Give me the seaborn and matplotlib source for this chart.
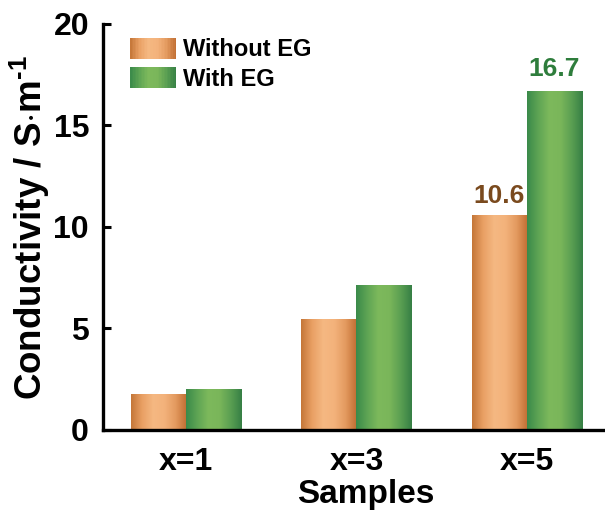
import numpy as np
import pandas as pd
import matplotlib
matplotlib.use('Agg')
import matplotlib.pyplot as plt
from matplotlib.colors import LinearSegmentedColormap
from matplotlib.patches import Rectangle
from matplotlib.legend_handler import HandlerPatch
import seaborn as sns

# data
samples = ['x=1', 'x=3', 'x=5']
without_eg = [1.77, 5.47, 10.6]
with_eg = [2.02, 7.14, 16.7]
series_names = ['Without EG', 'With EG']

df = pd.DataFrame({
    'Samples': samples * 2,
    'Conductivity': without_eg + with_eg,
    'Group': [series_names[0]] * 3 + [series_names[1]] * 3,
})

sns.set_style('ticks')
plt.rcParams['font.family'] = ['Liberation Sans', 'DejaVu Sans']
plt.rcParams['font.weight'] = 'bold'
plt.rcParams['mathtext.fontset'] = 'custom'
plt.rcParams['mathtext.rm'] = 'Liberation Sans:bold'
plt.rcParams['mathtext.bf'] = 'Liberation Sans:bold'
for k in ['text.color', 'axes.labelcolor', 'xtick.color', 'ytick.color', 'axes.edgecolor']:
    plt.rcParams[k] = 'black'

# gradient colour maps (dark edges, light centre)
orange_cmap = LinearSegmentedColormap.from_list(
    'org', ['#c47638', '#e9a064', '#f5b882', '#f3b27b', '#e39a5f', '#c06d32'])
green_cmap = LinearSegmentedColormap.from_list(
    'grn', ['#3a8a4a', '#5ea454', '#7db95c', '#7ab65a', '#5a9f52', '#367f45'])
cmaps = {series_names[0]: orange_cmap, series_names[1]: green_cmap}
mid_colors = {series_names[0]: '#eaa265', series_names[1]: '#62a656'}

fig = plt.figure(figsize=(6.05, 5.19), dpi=100)
ax = fig.add_axes([0.1702, 0.1715, 0.869, 0.7823])

sns.barplot(data=df, x='Samples', y='Conductivity', hue='Group',
            palette=mid_colors, width=0.647, gap=0, linewidth=0,
            ax=ax, legend=False)

grad = np.linspace(0, 1, 256).reshape(1, -1)
for container, name in zip(ax.containers, series_names):
    for patch in container:
        x0, y0 = patch.get_x(), patch.get_y()
        w, h = patch.get_width(), patch.get_height()
        im = ax.imshow(grad, cmap=cmaps[name], aspect='auto',
                       extent=[x0, x0 + w, y0, y0 + h], zorder=patch.get_zorder() + 0.1)
        im.set_clip_path(patch)

# value labels on the x=5 bars
ax.annotate('10.6', (2 - 0.647 / 4, without_eg[2]), xytext=(0, 5), textcoords='offset points',
            ha='center', va='bottom', fontsize=19, fontweight='bold', color='#7a4a1e')
ax.annotate('16.7', (2 + 0.647 / 4, with_eg[2]), xytext=(0, 7), textcoords='offset points',
            ha='center', va='bottom', fontsize=19, fontweight='bold', color='#2e7d3c')

ax.set_xlim(-0.49, 2.6)
ax.set_ylim(0, 20)
ax.set_yticks([0, 5, 10, 15, 20])
ax.set_xlabel('Samples', fontsize=24, fontweight='bold', labelpad=2)
ax.set_ylabel(r'Conductivity / S$\cdot$m$^{\text{-1}}$', fontsize=26.5, fontweight='bold', labelpad=1)
ax.tick_params(axis='y', direction='in', length=6, width=2.2, labelsize=23, pad=10)
ax.tick_params(axis='x', length=0, labelsize=23, pad=12)
for lab in ax.get_xticklabels() + ax.get_yticklabels():
    lab.set_fontweight('bold')

sns.despine(ax=ax, top=True, right=True)
for s in ['left', 'bottom']:
    ax.spines[s].set_linewidth(2.4)


class GradientHandler(HandlerPatch):
    def __init__(self, cmap):
        super().__init__()
        self.cmap = cmap

    def create_artists(self, legend, orig_handle, xdescent, ydescent,
                       width, height, fontsize, trans):
        n = 30
        arts = []
        for i in range(n):
            r = Rectangle((-xdescent + width * i / n, -ydescent), width / n + 0.3, height,
                          facecolor=self.cmap((i + 0.5) / n), edgecolor='none',
                          transform=trans)
            arts.append(r)
        return arts


handles = [Rectangle((0, 0), 1, 1, label=n) for n in series_names]
ax.legend(handles=handles, labels=series_names,
          handler_map={handles[0]: GradientHandler(orange_cmap),
                       handles[1]: GradientHandler(green_cmap)},
          loc='upper left', bbox_to_anchor=(0.0514, 0.965), frameon=False,
          borderpad=0, borderaxespad=0, handlelength=1.95, handleheight=0.95,
          handletextpad=0.28, labelspacing=0.25,
          prop={'size': 17, 'weight': 'bold'})

fig.savefig('out.png', dpi=100)
